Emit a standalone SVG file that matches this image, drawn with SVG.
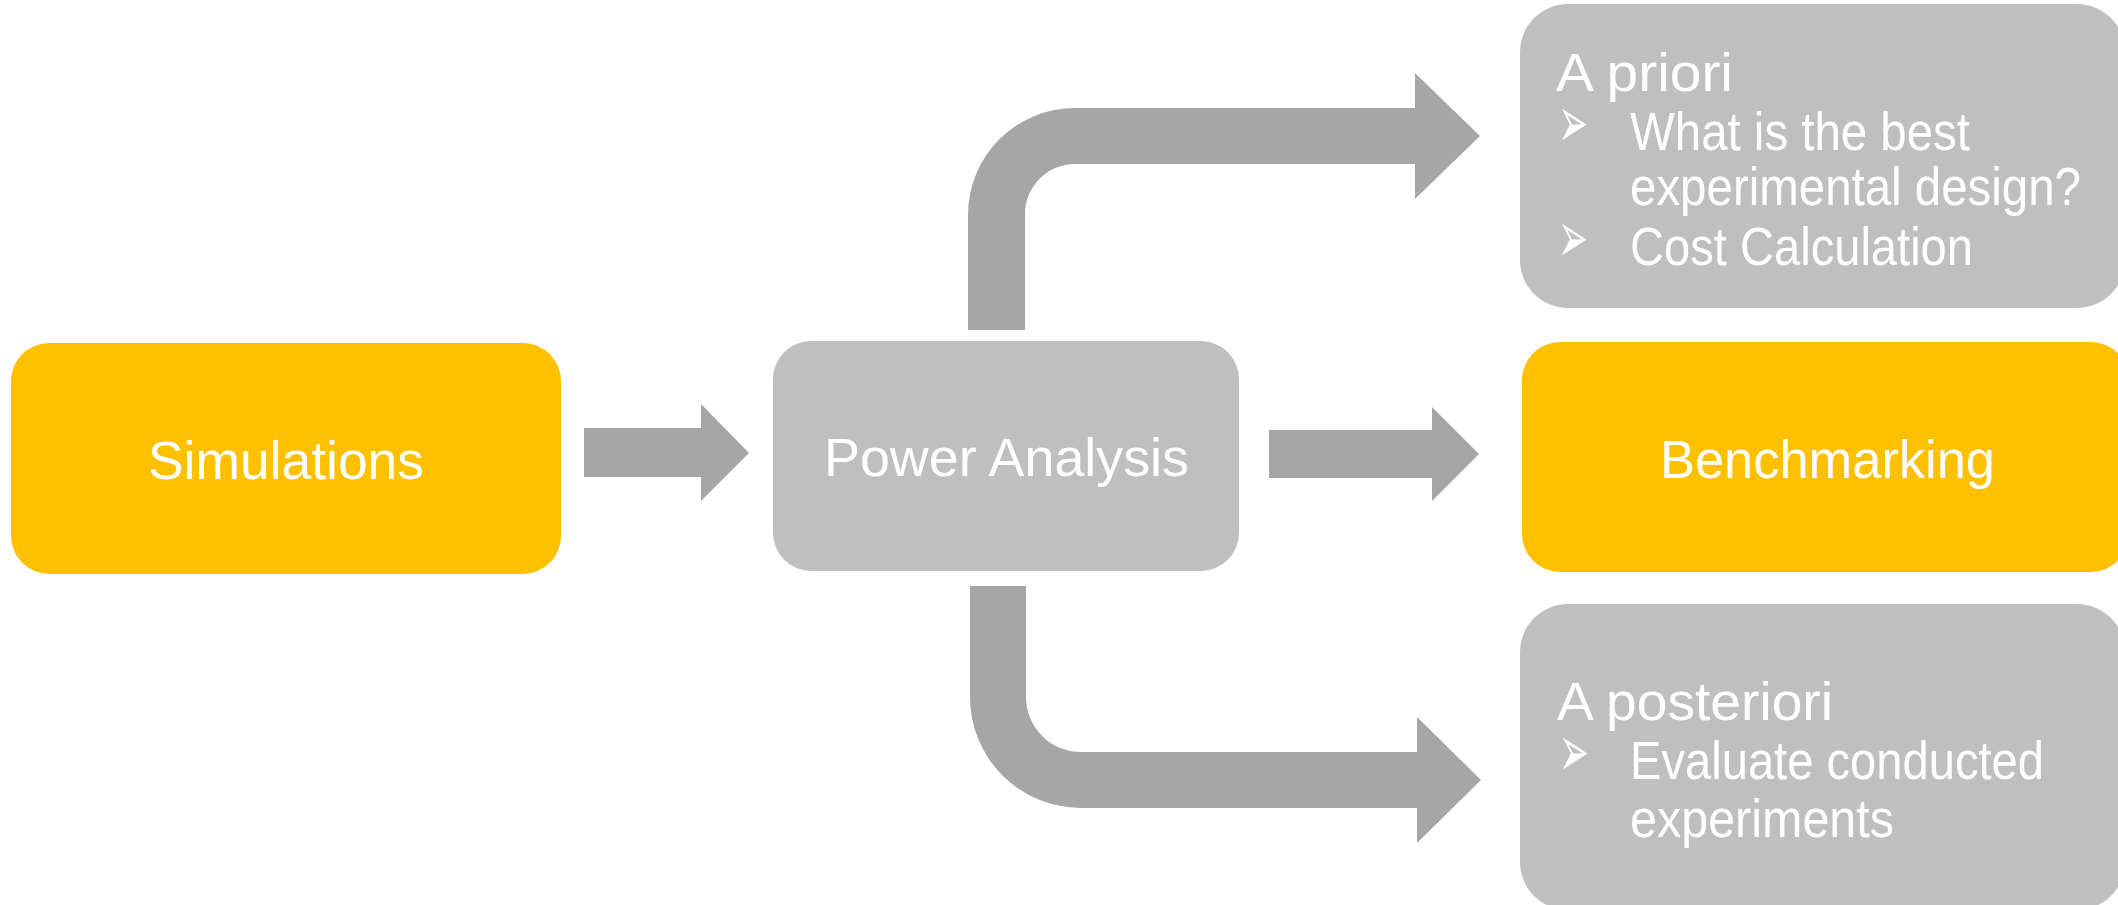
<svg xmlns="http://www.w3.org/2000/svg" width="2118" height="905" viewBox="0 0 2118 905">
<style>
.y{fill:#FFC000}
.g{fill:#BFBFBF}
.a{fill:#A6A6A6}
.t{fill:#FFFFFF;font-family:"Liberation Sans",Arial,sans-serif;font-size:53px}
.b{fill:#FFFFFF;font-family:"DejaVu Sans",sans-serif;font-size:48px}
</style>
<rect width="2118" height="905" fill="#FFFFFF"/>
<g id="connectors">
<path class="a" d="M584,428 L701,428 L701,404 L749,453 L701,501 L701,477 L584,477 Z"/>
<path class="a" d="M1269,430 L1432,430 L1432,407 L1479,454 L1432,501 L1432,478 L1269,478 Z"/>
<path class="a" d="M968,330 L968,215 A107,107 0 0 1 1075,108 L1415,108 L1415,73 L1480,136 L1415,199 L1415,164 L1075,164 A50,50 0 0 0 1025,214 L1025,330 Z"/>
<path class="a" d="M970,586 L1026,586 L1026,697 A55,55 0 0 0 1081,752 L1417,752 L1417,717 L1481,780 L1417,843 L1417,808 L1081,808 A111,111 0 0 1 970,697 Z"/>
</g>
<g id="simulations">
<rect class="y" x="11" y="343" width="550" height="231" rx="38" ry="38"/>
<text class="t" x="148" y="479" textLength="276" lengthAdjust="spacingAndGlyphs">Simulations</text>
</g>
<g id="power-analysis">
<rect class="g" x="773" y="341" width="466" height="230" rx="38" ry="38"/>
<text class="t" x="824" y="476" textLength="365" lengthAdjust="spacingAndGlyphs">Power Analysis</text>
</g>
<g id="a-priori">
<rect class="g" x="1520" y="4" width="605" height="304" rx="48" ry="48"/>
<text class="t" x="1556" y="91" textLength="177" lengthAdjust="spacingAndGlyphs">A priori</text>
<text class="b" transform="translate(1558,147) scale(0.75,1.5)">➢</text>
<text class="t" x="1630" y="150" textLength="340" lengthAdjust="spacingAndGlyphs">What is the best</text>
<text class="t" x="1630" y="205" textLength="451" lengthAdjust="spacingAndGlyphs">experimental design?</text>
<text class="b" transform="translate(1558,262) scale(0.75,1.5)">➢</text>
<text class="t" x="1630" y="265" textLength="343" lengthAdjust="spacingAndGlyphs">Cost Calculation</text>
</g>
<g id="benchmarking">
<rect class="y" x="1522" y="342" width="607" height="230" rx="38" ry="38"/>
<text class="t" x="1660" y="478" textLength="335" lengthAdjust="spacingAndGlyphs">Benchmarking</text>
</g>
<g id="a-posteriori">
<rect class="g" x="1520" y="604" width="605" height="306" rx="48" ry="48"/>
<text class="t" x="1557" y="720" textLength="276" lengthAdjust="spacingAndGlyphs">A posteriori</text>
<text class="b" transform="translate(1559,776) scale(0.75,1.5)">➢</text>
<text class="t" x="1630" y="779" textLength="414" lengthAdjust="spacingAndGlyphs">Evaluate conducted</text>
<text class="t" x="1630" y="837" textLength="264" lengthAdjust="spacingAndGlyphs">experiments</text>
</g>
</svg>
